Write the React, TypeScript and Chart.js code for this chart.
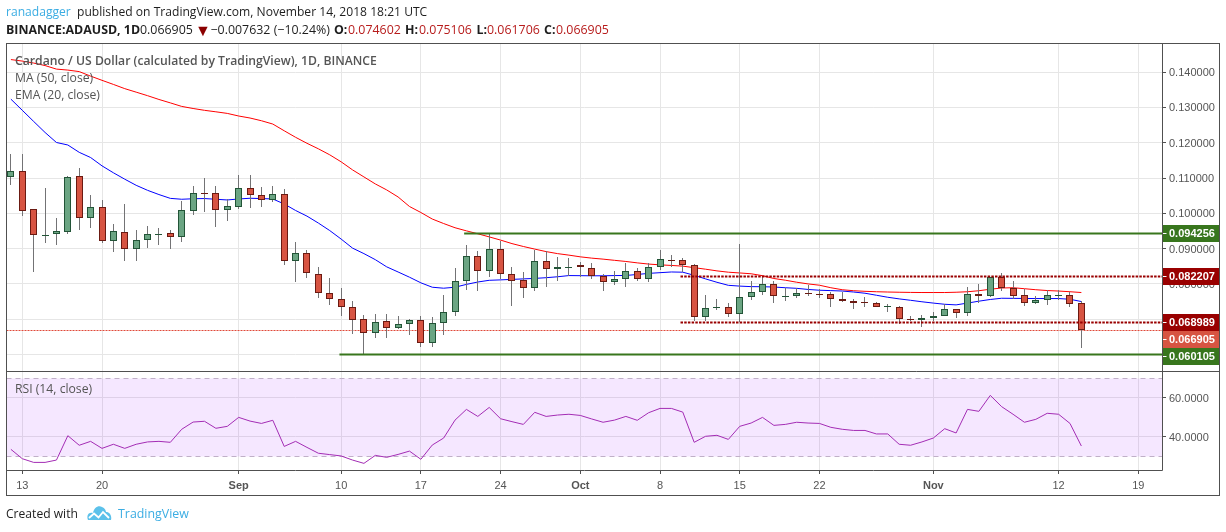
import React, { useEffect, useRef } from "react";
import { Chart, registerables } from "chart.js";

Chart.register(...registerables);

// Day index 0 is 12 Aug 2018, index 94 is 14 Nov 2018.
const opens = [.11023,.11193,.10114,.09370,.09403,.09479,.11051,.09858,.10170,.09204,.09460,.08977,.09233,.09400,.09432,.09318,.10057,.10568,.10568,.10085,.10170,.10710,.10511,.10369,.10540,.08636,.08864,.08267,.07756,.07585,.07358,.07017,.06619,.06960,.06761,.06865,.06989,.06335,.06903,.07216,.08096,.08778,.08352,.08977,.08267,.08115,.07898,.08636,.08409,.08480,.08523,.08437,.08238,.08068,.08153,.08352,.08153,.08466,.08674,.08665,.08542,.07074,.07342,.07358,.07159,.07642,.07784,.08011,.07664,.07670,.07746,.07727,.07727,.07585,.07528,.07500,.07462,.07361,.07358,.07008,.06979,.07036,.07093,.07301,.07187,.07727,.07661,.08182,.07898,.07699,.07462,.07547,.07693,.07699,.074602];
const highs = [.11686,.11686,.10114,.10720,.09858,.11051,.11278,.10521,.10379,.09687,.10256,.09526,.09631,.09574,.09526,.10350,.10777,.10994,.10777,.10398,.11089,.11089,.10748,.10777,.10691,.09176,.08949,.08475,.08163,.07879,.07509,.07112,.07140,.07140,.07083,.07017,.07083,.07055,.07680,.08437,.09100,.08930,.09432,.09214,.08475,.08333,.08958,.08930,.08759,.08731,.08617,.08589,.08267,.08362,.08589,.08437,.08579,.08958,.08816,.08731,.08561,.07680,.07585,.07471,.09129,.08087,.08238,.08096,.07898,.07898,.07955,.07869,.07775,.07775,.07585,.07632,.07500,.07424,.07367,.07083,.07131,.07216,.07434,.07301,.07917,.07992,.08182,.08295,.08078,.07860,.07670,.07822,.07822,.07775,.075106];
const lows = [.10814,.09934,.08343,.09167,.09100,.09422,.09536,.09593,.09167,.08911,.08655,.08655,.09025,.09100,.08996,.09195,.09962,.10038,.09621,.09792,.10133,.10161,.10189,.10331,.08532,.08059,.08172,.07604,.07405,.07093,.06581,.06004,.06468,.06468,.06733,.06553,.06212,.06212,.06553,.07093,.07831,.07803,.08201,.08125,.07377,.07604,.07803,.07902,.08087,.08238,.08201,.08144,.07803,.07973,.07902,.08087,.08059,.08381,.08485,.08343,.06941,.06950,.07263,.07064,.06922,.07557,.07690,.07462,.07519,.07614,.07652,.07614,.07339,.07490,.07292,.07348,.07348,.07206,.06875,.06960,.06780,.06950,.07093,.07036,.07083,.07471,.07632,.07803,.07585,.07367,.07434,.07396,.07557,.07339,.061706];
const closes = [.11193,.10076,.09375,.09375,.09489,.11023,.09858,.10170,.09204,.09489,.08977,.09233,.09403,.09403,.09318,.10085,.10568,.10560,.10085,.10199,.10710,.10511,.10369,.10540,.08636,.08864,.08295,.07756,.07585,.07358,.06989,.06619,.06932,.06761,.06875,.06989,.06335,.06903,.07216,.08096,.08778,.08352,.08977,.08267,.08096,.07898,.08636,.08409,.08466,.08485,.08466,.08210,.08068,.08153,.08352,.08153,.08466,.08693,.08668,.08542,.07074,.07329,.07348,.07159,.07642,.07784,.08011,.07670,.07670,.07756,.07740,.07721,.07576,.07519,.07462,.07462,.07348,.07367,.07008,.07002,.07046,.07102,.07301,.07178,.07727,.07661,.08182,.07888,.07670,.07471,.07557,.07699,.07699,.07443,.066905];
const ma50 = [.14355,.14312,.14256,.14185,.14085,.14057,.14014,.13886,.13767,.13651,.13531,.13432,.13332,.13225,.13128,.13028,.12969,.12917,.12875,.12830,.12756,.12699,.12622,.12528,.12338,.12153,.11983,.11827,.11656,.11458,.11230,.11031,.10832,.10662,.10463,.10193,.10023,.09838,.09710,.09591,.09503,.09420,.09332,.09241,.09142,.09060,.08986,.08915,.08858,.08815,.08767,.08730,.08702,.08668,.08636,.08596,.08562,.08540,.08523,.08503,.08460,.08417,.08369,.08332,.08310,.08287,.08233,.08153,.08105,.08048,.08000,.07963,.07892,.07835,.07807,.07790,.07778,.07770,.07764,.07759,.07756,.07756,.07756,.07764,.07778,.07807,.07849,.07884,.07892,.07864,.07835,.07812,.07798,.07778,.07756];
const ema20 = [.13233,.12918,.12602,.12290,.12006,.11935,.11727,.11580,.11344,.11148,.10966,.10793,.10651,.10531,.10423,.10398,.10412,.10418,.10398,.10378,.10406,.10426,.10418,.10406,.10264,.10080,.09920,.09724,.09511,.09270,.09014,.08858,.08687,.08483,.08338,.08190,.08031,.07906,.07878,.07906,.07986,.08054,.08102,.08114,.08128,.08142,.08156,.08176,.08202,.08236,.08233,.08230,.08230,.08236,.08239,.08267,.08298,.08318,.08338,.08332,.08244,.08142,.08046,.07960,.07938,.07923,.07920,.07912,.07892,.07875,.07843,.07821,.07810,.07798,.07770,.07736,.07679,.07622,.07576,.07536,.07494,.07457,.07423,.07406,.07457,.07511,.07559,.07594,.07591,.07588,.07585,.07585,.07585,.07565,.07500];
const rsi = [33.5,28.7,26.8,26.8,28.0,40.5,35.6,37.6,34.0,36.1,34.0,36.1,37.3,37.6,37.1,43.8,47.5,47.9,44.3,45.3,49.9,48.0,46.8,48.4,35.0,37.6,34.5,31.5,30.8,30.1,28.0,26.3,30.4,29.4,30.9,32.6,28.4,35.7,39.3,48.5,54.0,50.4,55.0,49.2,47.7,46.3,52.5,50.4,51.1,51.5,50.9,49.1,47.4,48.5,50.4,48.4,52.3,54.5,54.5,52.6,37.1,40.2,40.7,38.6,45.3,47.0,49.9,45.8,46.3,47.4,47.0,46.8,44.8,43.8,43.2,43.2,41.4,41.4,36.1,35.6,37.3,39.3,44.1,41.9,54.0,53.0,61.2,55.4,51.5,47.4,48.9,52.0,51.5,46.8,35.2];

const xTickDays = [1, 8, 20, 29, 36, 43, 50, 57, 64, 71, 81, 92, 99];
const xTickLabels = ["13", "20", "Sep", "10", "17", "24", "Oct", "8", "15", "22", "Nov", "12", "19"];
const monthLabels = ["Sep", "Oct", "Nov"];
const priceTicks = [0.14, 0.13, 0.12, 0.11, 0.1, 0.09, 0.08, 0.07, 0.06];
const rsiTicks = [60, 40];
const rsiBand = [70, 30];

const resistance = 0.094256;
const resistanceFrom = 39.8;
const support = 0.060105;
const supportFrom = 28.85;
const upperRange = 0.082207;
const lowerRange = 0.068989;
const rangeFrom = 58.8;
const lastPrice = 0.066905;

const priceTags = [
  { value: resistance, color: "#38761d" },
  { value: upperRange, color: "#990000" },
  { value: lowerRange, color: "#990000" },
  { value: lastPrice, color: "#d75442" },
  { value: support, color: "#38761d" },
];

const X_MIN = -0.386;
const X_MAX = 101.08;
const UP = "#6ba583";
const DOWN = "#d75442";
const UP_EDGE = "#225437";
const DOWN_EDGE = "#6b1a12";
const FRAME = "#505050";
const AXIS_FONT = "'Liberation Sans', Arial, sans-serif";

const days = opens.map((_, i) => i);
const flat = (y: number) => [{ x: X_MIN, y }, { x: X_MAX, y }];

const snapMarks = {
  id: "snapMarks",
  afterDatasetsUpdate(chart: any) {
    chart.data.datasets.forEach((ds: any, idx: number) => {
      const els = chart.getDatasetMeta(idx).data;
      if (ds.type === "bar") {
        els.forEach((el: any) => {
          el.x = Math.round(el.x - 0.5) + 0.5;
          const a = Math.round(el.y);
          let b = Math.round(el.base);
          if (a === b) b = a + 1;
          el.y = a;
          el.base = b;
          el.height = b - a;
        });
      } else if (ds.snapRow) {
        els.forEach((el: any) => {
          el.y = Math.floor(el.y) + 0.5;
        });
      }
    });
  },
};

const framePlugin = {
  id: "framePlugin",
  afterDraw(chart: any) {
    const { ctx, chartArea: ca } = chart;
    const yScale = chart.scales.y;
    const paneLine = Math.round(yScale.bottom) + 0.5;
    const L = 6.5;
    const T = 43.5;
    const R = 1219.5;
    const B = 495.5;
    const PR = Math.round(ca.right) + 0.5;
    const AB = Math.round(ca.bottom) + 0.5;

    ctx.save();
    // price tags, stacked downward so they never overlap
    const h = 17;
    let prevBottom = -Infinity;
    priceTags
      .slice()
      .sort((a, b) => b.value - a.value)
      .forEach((tag) => {
        const mid = yScale.getPixelForValue(tag.value);
        const top = Math.max(Math.round(mid - h / 2), prevBottom);
        prevBottom = top + h;
        ctx.fillStyle = tag.color;
        ctx.fillRect(PR, top, R - PR, h);
        ctx.fillStyle = "#ffffff";
        ctx.fillRect(PR, top + 8, 4, 1);
        ctx.font = `bold 11px ${AXIS_FONT}`;
        ctx.textBaseline = "middle";
        ctx.textAlign = "left";
        ctx.fillText(tag.value.toFixed(6), PR + 6.5, top + h / 2 + 0.5);
      });

    ctx.strokeStyle = FRAME;
    ctx.lineWidth = 1;
    ctx.setLineDash([]);
    ctx.strokeRect(L, T, R - L, B - T);
    ctx.beginPath();
    ctx.moveTo(L, paneLine);
    ctx.lineTo(R, paneLine);
    ctx.moveTo(L, AB);
    ctx.lineTo(PR, AB);
    ctx.moveTo(PR, T);
    ctx.lineTo(PR, AB);
    ctx.stroke();
    ctx.restore();
  },
};

const text = (left: number, mid: number, color: string, size: number, weight = 400): React.CSSProperties => ({
  position: "absolute",
  left,
  top: mid - 10,
  height: 20,
  lineHeight: "20px",
  color,
  fontSize: size,
  fontWeight: weight,
  fontFamily: "'Open Sans', sans-serif",
  whiteSpace: "pre",
});

const RED_TEXT = "#b71c1c";
const DARK_TEXT = "#1e1e1e";
const LEGEND = "#555555";
const BRAND = "#3bade3";

export default function App() {
  const ref = useRef<HTMLCanvasElement>(null);

  useEffect(() => {
    if (!ref.current) return;
    const chart = new Chart(ref.current, {
      type: "bar",
      data: {
        datasets: [
          {
            type: "line",
            data: flat(rsiBand[0]),
            yAxisID: "yRsi",
            borderColor: "#c0b0c8",
            borderWidth: 1,
            borderDash: [5, 4],
            backgroundColor: "rgba(153,21,255,0.1)",
            fill: "+1",
            pointRadius: 0,
            snapRow: true,
            order: 90,
          },
          {
            type: "line",
            data: flat(rsiBand[1]),
            yAxisID: "yRsi",
            borderColor: "#c0b0c8",
            borderWidth: 1,
            borderDash: [5, 4],
            pointRadius: 0,
            snapRow: true,
            order: 89,
          },
          {
            type: "line",
            data: rsi.map((y, i) => ({ x: days[i], y })),
            yAxisID: "yRsi",
            borderColor: "#a32cb4",
            borderWidth: 1,
            pointRadius: 0,
            order: 80,
          },
          {
            type: "line",
            data: flat(lastPrice),
            yAxisID: "y",
            borderColor: "#e04a3a",
            borderWidth: 1,
            borderDash: [2, 1],
            pointRadius: 0,
            snapRow: true,
            order: 70,
          },
          {
            type: "line",
            data: ma50.map((y, i) => ({ x: days[i], y })),
            yAxisID: "y",
            borderColor: "#ff0000",
            borderWidth: 1,
            pointRadius: 0,
            order: 61,
          },
          {
            type: "line",
            data: ema20.map((y, i) => ({ x: days[i], y })),
            yAxisID: "y",
            borderColor: "#0000ff",
            borderWidth: 1,
            pointRadius: 0,
            order: 60,
          },
          {
            type: "bar",
            data: days.map((x) => ({ x, y: [lows[x], highs[x]] })),
            yAxisID: "y",
            backgroundColor: "#737375",
            borderWidth: 0,
            barThickness: 1,
            grouped: false,
            inflateAmount: 0,
            order: 40,
          },
          {
            type: "bar",
            data: days.map((x) => ({ x, y: [opens[x], closes[x]] })),
            yAxisID: "y",
            backgroundColor: days.map((i) => {
              const up = closes[i] >= opens[i];
              if (Math.abs(closes[i] - opens[i]) < 0.0002) return up ? UP_EDGE : DOWN_EDGE;
              return up ? UP : DOWN;
            }),
            borderColor: days.map((i) => (closes[i] >= opens[i] ? UP_EDGE : DOWN_EDGE)),
            borderWidth: 1,
            borderSkipped: false,
            barThickness: 7,
            grouped: false,
            inflateAmount: 0,
            order: 30,
          },
          {
            type: "line",
            data: [{ x: resistanceFrom, y: resistance }, { x: X_MAX, y: resistance }],
            yAxisID: "y",
            borderColor: "#38761d",
            borderWidth: 2,
            pointRadius: 0,
            snapRow: true,
            order: 10,
          },
          {
            type: "line",
            data: [{ x: supportFrom, y: support }, { x: X_MAX, y: support }],
            yAxisID: "y",
            borderColor: "#38761d",
            borderWidth: 2,
            pointRadius: 0,
            snapRow: true,
            order: 10,
          },
          {
            type: "line",
            data: [{ x: rangeFrom, y: upperRange }, { x: X_MAX, y: upperRange }],
            yAxisID: "y",
            borderColor: "#990000",
            borderWidth: 2,
            borderDash: [2.5, 1.2],
            pointRadius: 0,
            snapRow: true,
            order: 10,
          },
          {
            type: "line",
            data: [{ x: rangeFrom, y: lowerRange }, { x: X_MAX, y: lowerRange }],
            yAxisID: "y",
            borderColor: "#990000",
            borderWidth: 2,
            borderDash: [2.5, 1.2],
            pointRadius: 0,
            snapRow: true,
            order: 10,
          },
        ] as any,
      },
      options: {
        animation: false,
        responsive: false,
        devicePixelRatio: 1,
        layout: { padding: { left: 6.5, top: 43.5, right: 7, bottom: 37 } },
        plugins: { legend: { display: false }, tooltip: { enabled: false } },
        scales: {
          x: {
            type: "linear",
            position: "bottom",
            offset: false,
            min: X_MIN,
            max: X_MAX,
            afterBuildTicks: (s: any) => {
              s.ticks = xTickDays.map((value) => ({ value }));
            },
            afterFit: (s: any) => {
              s.height = 25;
            },
            grid: { offset: false, color: "#e6e6e6", lineWidth: 1, tickLength: 4, tickColor: FRAME },
            border: { display: false },
            ticks: {
              autoSkip: false,
              maxRotation: 0,
              padding: 5.5,
              color: "#555555",
              font: (c: any) => {
                const label = xTickLabels[xTickDays.indexOf(c.tick?.value)];
                return { family: AXIS_FONT, size: 11, weight: monthLabels.includes(label) ? "bold" : "normal" };
              },
              callback: (v: any) => xTickLabels[xTickDays.indexOf(Number(v))] ?? "",
            },
          },
          y: {
            type: "linear",
            position: "right",
            stack: "panes",
            stackWeight: 327.5,
            min: 0.05533,
            max: 0.1481,
            afterBuildTicks: (s: any) => {
              s.ticks = priceTicks.map((value) => ({ value }));
            },
            afterFit: (s: any) => {
              s.width = 57;
            },
            grid: { color: "#e6e6e6", lineWidth: 1, tickLength: 4, tickColor: FRAME },
            border: { display: false },
            ticks: {
              padding: 3,
              labelOffset: 1,
              color: "#555555",
              font: { family: AXIS_FONT, size: 11 },
              callback: (v: any) => Number(v).toFixed(6),
            },
          },
          yRsi: {
            type: "linear",
            axis: "y",
            position: "right",
            stack: "panes",
            stackWeight: 99,
            min: 22.9,
            max: 73.7,
            afterBuildTicks: (s: any) => {
              s.ticks = rsiTicks.map((value) => ({ value }));
            },
            afterFit: (s: any) => {
              s.width = 57;
            },
            grid: { color: "#e6e6e6", lineWidth: 1, tickLength: 4, tickColor: FRAME },
            border: { display: false },
            ticks: {
              padding: 3,
              labelOffset: 1,
              color: "#555555",
              font: { family: AXIS_FONT, size: 11 },
              callback: (v: any) => Number(v).toFixed(4),
            },
          },
        },
      } as any,
      plugins: [snapMarks, framePlugin],
    });
    return () => chart.destroy();
  }, []);

  return (
    <div style={{ position: "absolute", left: 0, top: 0, width: 1226, height: 532, background: "#fff", overflow: "hidden" }}>
      <canvas ref={ref} width={1226} height={532} style={{ position: "absolute", left: 0, top: 0, width: 1226, height: 532 }} />

      <span style={text(6, 12, BRAND, 12.1)}>ranadagger</span>
      <span style={text(77, 12, DARK_TEXT, 12.1)}>published on TradingView.com, November 14, 2018 18:21 UTC</span>

      <span style={text(6, 30, DARK_TEXT, 12.4, 700)}>BINANCE:ADAUSD, 1D</span>
      <span style={text(140, 30, DARK_TEXT, 12.4)}>0.066905</span>
      <span style={text(195, 30, "#8b0000", 16)}>▼</span>
      <span style={text(210.5, 30, DARK_TEXT, 12.4)}>−0.007632 (−10.24%)</span>
      <span style={text(334, 30, DARK_TEXT, 12.4, 700)}>O:</span>
      <span style={text(348, 30, RED_TEXT, 12.4)}>0.074602</span>
      <span style={text(405, 30, DARK_TEXT, 12.4, 700)}>H:</span>
      <span style={text(419, 30, RED_TEXT, 12.4)}>0.075106</span>
      <span style={text(476.5, 30, DARK_TEXT, 12.4, 700)}>L:</span>
      <span style={text(487, 30, RED_TEXT, 12.4)}>0.061706</span>
      <span style={text(544, 30, DARK_TEXT, 12.4, 700)}>C:</span>
      <span style={text(556, 30, RED_TEXT, 12.4)}>0.066905</span>

      <span style={text(15, 60.5, LEGEND, 12.2, 600)}>Cardano / US Dollar (calculated by TradingView), 1D, BINANCE</span>
      <span style={text(15, 77.5, LEGEND, 12.2)}>MA (50, close)</span>
      <span style={text(15, 95, LEGEND, 12.2)}>EMA (20, close)</span>
      <span style={text(15, 388.5, LEGEND, 12.2)}>RSI (14, close)</span>

      <span style={text(6, 514, DARK_TEXT, 12.1)}>Created with</span>
      <svg style={{ position: "absolute", left: 87, top: 505 }} width={25} height={16} viewBox="0 0 25 16">
        <path d="M1 15 C-1 10 2 7 6 8 C7 3 11 0 15 2 C18 3 19 6 19 7 C23 7 25 11 24 15 Z" fill="#5cc1ea" />
        <path d="M2 13 L7 8.5 L11.5 12.5 L16 7 L22 13" fill="none" stroke="#ffffff" strokeWidth="1.8" />
      </svg>
      <span style={text(118, 514, BRAND, 12.4)}>TradingView</span>
    </div>
  );
}
